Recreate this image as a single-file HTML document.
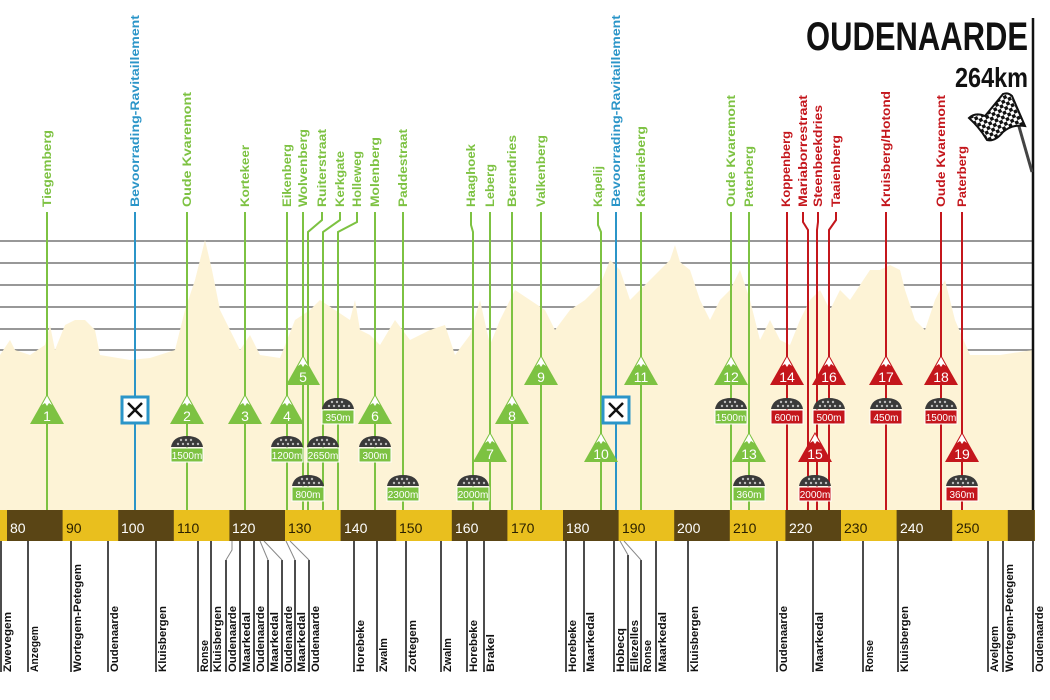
<!DOCTYPE html>
<html><head><meta charset="utf-8"><style>
html,body{margin:0;padding:0;background:#fff;}
svg{display:block;}
text{font-family:"Liberation Sans Narrow","Liberation Sans",sans-serif;}
</style></head><body>
<svg width="1050" height="700" viewBox="0 0 1050 700" xmlns="http://www.w3.org/2000/svg">
<defs>
<pattern id="chk" width="7" height="7" patternUnits="userSpaceOnUse" patternTransform="rotate(-25)">
<rect width="7" height="7" fill="#fff"/><rect width="3.5" height="3.5" fill="#111"/><rect x="3.5" y="3.5" width="3.5" height="3.5" fill="#111"/>
</pattern>
<g id="tg"><polygon points="0,0 17,30 -17,30" fill="#7dc242"/><polygon points="0,2 5,11 2,9 0,12 -2,9 -5,11" fill="#fff"/></g>
<g id="tr"><polygon points="0,0 17,30 -17,30" fill="#c4161c"/><polygon points="0,2 5,11 2,9 0,12 -2,9 -5,11" fill="#fff"/></g>
<g id="dome"><path d="M-16,11 Q-14,0 0,0 Q14,0 16,11 Z" fill="#3a3a3a"/><g fill="#bbb"><circle cx="-9" cy="8" r="1.2"/><circle cx="-4" cy="8" r="1.2"/><circle cx="1" cy="8" r="1.2"/><circle cx="6" cy="8" r="1.2"/><circle cx="11" cy="8" r="1.2"/><circle cx="-6" cy="4" r="1.2"/><circle cx="-1" cy="4" r="1.2"/><circle cx="4" cy="4" r="1.2"/></g></g>
<g id="sq"><rect x="-13" y="0" width="26" height="26" fill="#fff" stroke="#2b95c8" stroke-width="3"/><path d="M-7,6 L7,20 M7,6 L-7,20" stroke="#111" stroke-width="2.5"/></g>
</defs>

<g stroke="#777" stroke-width="1.5">
<line x1="0" y1="241" x2="1033" y2="241"/><line x1="0" y1="263" x2="1033" y2="263"/>
<line x1="0" y1="285" x2="1033" y2="285"/><line x1="0" y1="307" x2="1033" y2="307"/>
<line x1="0" y1="329" x2="1033" y2="329"/><line x1="0" y1="350" x2="1033" y2="350"/>
</g>
<polygon fill="#fdf3d6" points="0,355 10,340 15,350 30,355 45,345 50,325 55,350 65,325 75,320 85,320 95,330 100,355 130,360 150,358 175,350 185,310 195,280 205,240 212,270 220,310 230,330 240,350 250,335 260,355 280,358 295,320 310,310 320,300 335,310 350,320 355,300 360,330 370,335 380,345 395,320 410,340 430,330 445,325 455,355 470,335 480,300 490,345 500,320 515,290 530,300 545,310 555,330 570,310 585,300 600,285 610,260 620,270 630,300 640,290 650,280 660,270 670,260 675,245 680,262 690,270 700,300 710,320 720,300 730,290 740,270 750,300 760,340 770,320 780,340 790,345 800,320 810,300 820,290 830,310 840,290 850,300 860,285 870,270 880,270 890,265 900,270 905,290 915,320 925,330 935,300 945,280 955,320 970,355 1000,355 1033,350 1033,512 0,512"/>

<text x="1028" y="50" font-size="40" font-weight="bold" text-anchor="end" fill="#111" textLength="222" lengthAdjust="spacingAndGlyphs">OUDENAARDE</text>
<text x="1028" y="87" font-size="28" font-weight="bold" text-anchor="end" fill="#111" textLength="73" lengthAdjust="spacingAndGlyphs">264km</text>
<line x1="1033" y1="18" x2="1033" y2="512" stroke="#111" stroke-width="2.5"/>
<line x1="1010" y1="95" x2="1032" y2="172" stroke="#444" stroke-width="3"/>
<path d="M969,118 Q975,112 985,116 Q995,104 1003,94 Q1008,92 1012,96 L1025,126 Q1012,124 1003,132 Q995,142 987,140 Q980,128 969,118 Z" fill="url(#chk)" stroke="#111" stroke-width="2"/>

<g stroke-width="2" fill="none">
<g stroke="#7dc242">
<line x1="47" y1="212" x2="47" y2="510"/><line x1="187" y1="212" x2="187" y2="510"/><line x1="245" y1="212" x2="245" y2="510"/>
<line x1="287" y1="212" x2="287" y2="510"/><line x1="303" y1="212" x2="303" y2="510"/>
<polyline points="322,212 322,220 308,232 308,510"/><polyline points="340,212 340,220 323,232 323,510"/><polyline points="357,212 357,222 338,232 338,510"/>
<line x1="375" y1="212" x2="375" y2="510"/><line x1="403" y1="212" x2="403" y2="510"/>
<polyline points="471,212 471,225 473,232 473,510"/><line x1="490" y1="212" x2="490" y2="510"/><line x1="512" y1="212" x2="512" y2="510"/>
<line x1="541" y1="212" x2="541" y2="510"/><polyline points="598,212 598,225 601,232 601,510"/><line x1="641" y1="212" x2="641" y2="510"/>
<line x1="731" y1="212" x2="731" y2="510"/><line x1="749" y1="212" x2="749" y2="510"/>
</g>
<g stroke="#2b95c8"><line x1="135" y1="212" x2="135" y2="510"/><line x1="616" y1="212" x2="616" y2="510"/></g>
<g stroke="#c4161c">
<line x1="787" y1="212" x2="787" y2="510"/><polyline points="803,212 803,222 808,230 808,510"/><polyline points="818,212 818,222 817,230 817,510"/>
<polyline points="836,212 836,220 829,230 829,510"/><line x1="886" y1="212" x2="886" y2="510"/><line x1="941" y1="212" x2="941" y2="510"/><line x1="962" y1="212" x2="962" y2="510"/>
</g>
</g>

<g font-size="12" font-weight="bold">
<g fill="#7dc242">
<text transform="translate(51,207) rotate(-90)" textLength="77" lengthAdjust="spacingAndGlyphs">Tiegemberg</text>
<text transform="translate(191,207) rotate(-90)" textLength="115" lengthAdjust="spacingAndGlyphs">Oude Kvaremont</text>
<text transform="translate(249,207) rotate(-90)" textLength="62" lengthAdjust="spacingAndGlyphs">Kortekeer</text>
<text transform="translate(291,207) rotate(-90)" textLength="63" lengthAdjust="spacingAndGlyphs">Eikenberg</text>
<text transform="translate(307,207) rotate(-90)" textLength="78" lengthAdjust="spacingAndGlyphs">Wolvenberg</text>
<text transform="translate(326,207) rotate(-90)" textLength="78" lengthAdjust="spacingAndGlyphs">Ruiterstraat</text>
<text transform="translate(344,207) rotate(-90)" textLength="56" lengthAdjust="spacingAndGlyphs">Kerkgate</text>
<text transform="translate(361,207) rotate(-90)" textLength="56" lengthAdjust="spacingAndGlyphs">Holleweg</text>
<text transform="translate(379,207) rotate(-90)" textLength="70" lengthAdjust="spacingAndGlyphs">Molenberg</text>
<text transform="translate(407,207) rotate(-90)" textLength="78" lengthAdjust="spacingAndGlyphs">Paddestraat</text>
<text transform="translate(475,207) rotate(-90)" textLength="63" lengthAdjust="spacingAndGlyphs">Haaghoek</text>
<text transform="translate(494,207) rotate(-90)" textLength="43" lengthAdjust="spacingAndGlyphs">Leberg</text>
<text transform="translate(516,207) rotate(-90)" textLength="72" lengthAdjust="spacingAndGlyphs">Berendries</text>
<text transform="translate(545,207) rotate(-90)" textLength="72" lengthAdjust="spacingAndGlyphs">Valkenberg</text>
<text transform="translate(602,207) rotate(-90)" textLength="41" lengthAdjust="spacingAndGlyphs">Kapelij</text>
<text transform="translate(645,207) rotate(-90)" textLength="81" lengthAdjust="spacingAndGlyphs">Kanarieberg</text>
<text transform="translate(735,207) rotate(-90)" textLength="112" lengthAdjust="spacingAndGlyphs">Oude Kvaremont</text>
<text transform="translate(753,207) rotate(-90)" textLength="61" lengthAdjust="spacingAndGlyphs">Paterberg</text>
</g>
<g fill="#2b95c8">
<text transform="translate(139,207) rotate(-90)" textLength="192" lengthAdjust="spacingAndGlyphs">Bevoorrading-Ravitaillement</text>
<text transform="translate(620,207) rotate(-90)" textLength="192" lengthAdjust="spacingAndGlyphs">Bevoorrading-Ravitaillement</text>
</g>
<g fill="#c4161c">
<text transform="translate(790,207) rotate(-90)" textLength="76" lengthAdjust="spacingAndGlyphs">Koppenberg</text>
<text transform="translate(807,207) rotate(-90)" textLength="112" lengthAdjust="spacingAndGlyphs">Mariaborrestraat</text>
<text transform="translate(822,207) rotate(-90)" textLength="102" lengthAdjust="spacingAndGlyphs">Steenbeekdries</text>
<text transform="translate(840,207) rotate(-90)" textLength="72" lengthAdjust="spacingAndGlyphs">Taaienberg</text>
<text transform="translate(890,207) rotate(-90)" textLength="116" lengthAdjust="spacingAndGlyphs">Kruisberg/Hotond</text>
<text transform="translate(945,207) rotate(-90)" textLength="112" lengthAdjust="spacingAndGlyphs">Oude Kvaremont</text>
<text transform="translate(966,207) rotate(-90)" textLength="61" lengthAdjust="spacingAndGlyphs">Paterberg</text>
</g>
</g>

<use href="#sq" x="135" y="397"/><use href="#sq" x="616" y="397"/>

<g font-size="14" fill="#fff" text-anchor="middle">
<use href="#tg" x="303" y="355"/><text x="303" y="382">5</text>
<use href="#tg" x="541" y="355"/><text x="541" y="382">9</text>
<use href="#tg" x="641" y="355"/><text x="641" y="382">11</text>
<use href="#tg" x="731" y="355"/><text x="731" y="382">12</text>
<use href="#tr" x="787" y="355"/><text x="787" y="382">14</text>
<use href="#tr" x="829" y="355"/><text x="829" y="382">16</text>
<use href="#tr" x="886" y="355"/><text x="886" y="382">17</text>
<use href="#tr" x="941" y="355"/><text x="941" y="382">18</text>
<use href="#tg" x="47" y="394"/><text x="47" y="421">1</text>
<use href="#tg" x="187" y="394"/><text x="187" y="421">2</text>
<use href="#tg" x="245" y="394"/><text x="245" y="421">3</text>
<use href="#tg" x="287" y="394"/><text x="287" y="421">4</text>
<use href="#tg" x="375" y="394"/><text x="375" y="421">6</text>
<use href="#tg" x="512" y="394"/><text x="512" y="421">8</text>
<use href="#tg" x="490" y="432"/><text x="490" y="459">7</text>
<use href="#tg" x="601" y="432"/><text x="601" y="459">10</text>
<use href="#tg" x="749" y="432"/><text x="749" y="459">13</text>
<use href="#tr" x="815" y="432"/><text x="815" y="459">15</text>
<use href="#tr" x="962" y="432"/><text x="962" y="459">19</text>
</g>

<g font-size="10" fill="#fff" text-anchor="middle">
<use href="#dome" x="338" y="398"/><rect x="322" y="410" width="32" height="14" fill="#7dc242" stroke="#fff"/><text x="338" y="421">350m</text>
<use href="#dome" x="731" y="398"/><rect x="715" y="410" width="32" height="14" fill="#7dc242" stroke="#fff"/><text x="731" y="421">1500m</text>
<use href="#dome" x="787" y="398"/><rect x="771" y="410" width="32" height="14" fill="#c4161c" stroke="#fff"/><text x="787" y="421">600m</text>
<use href="#dome" x="829" y="398"/><rect x="813" y="410" width="32" height="14" fill="#c4161c" stroke="#fff"/><text x="829" y="421">500m</text>
<use href="#dome" x="886" y="398"/><rect x="870" y="410" width="32" height="14" fill="#c4161c" stroke="#fff"/><text x="886" y="421">450m</text>
<use href="#dome" x="941" y="398"/><rect x="925" y="410" width="32" height="14" fill="#c4161c" stroke="#fff"/><text x="941" y="421">1500m</text>
<use href="#dome" x="187" y="436"/><rect x="171" y="448" width="32" height="14" fill="#7dc242" stroke="#fff"/><text x="187" y="459">1500m</text>
<use href="#dome" x="287" y="436"/><rect x="271" y="448" width="32" height="14" fill="#7dc242" stroke="#fff"/><text x="287" y="459">1200m</text>
<use href="#dome" x="323" y="436"/><rect x="307" y="448" width="32" height="14" fill="#7dc242" stroke="#fff"/><text x="323" y="459">2650m</text>
<use href="#dome" x="375" y="436"/><rect x="359" y="448" width="32" height="14" fill="#7dc242" stroke="#fff"/><text x="375" y="459">300m</text>
<use href="#dome" x="308" y="475"/><rect x="292" y="487" width="32" height="14" fill="#7dc242" stroke="#fff"/><text x="308" y="498">800m</text>
<use href="#dome" x="403" y="475"/><rect x="387" y="487" width="32" height="14" fill="#7dc242" stroke="#fff"/><text x="403" y="498">2300m</text>
<use href="#dome" x="473" y="475"/><rect x="457" y="487" width="32" height="14" fill="#7dc242" stroke="#fff"/><text x="473" y="498">2000m</text>
<use href="#dome" x="749" y="475"/><rect x="733" y="487" width="32" height="14" fill="#7dc242" stroke="#fff"/><text x="749" y="498">360m</text>
<use href="#dome" x="815" y="475"/><rect x="799" y="487" width="32" height="14" fill="#c4161c" stroke="#fff"/><text x="815" y="498">2000m</text>
<use href="#dome" x="962" y="475"/><rect x="946" y="487" width="32" height="14" fill="#c4161c" stroke="#fff"/><text x="962" y="498">360m</text>
</g>

<rect x="0" y="510" width="1035" height="31" fill="#e9bf1e"/>
<g fill="#5a4515">
<rect x="7" y="510" width="55.6" height="31"/><rect x="118.2" y="510" width="55.6" height="31"/>
<rect x="229.4" y="510" width="55.6" height="31"/><rect x="340.6" y="510" width="55.6" height="31"/>
<rect x="451.8" y="510" width="55.6" height="31"/><rect x="563" y="510" width="55.6" height="31"/>
<rect x="674.2" y="510" width="55.6" height="31"/><rect x="785.4" y="510" width="55.6" height="31"/>
<rect x="896.6" y="510" width="55.6" height="31"/><rect x="1007.8" y="510" width="27" height="31"/>
</g>
<g font-size="14">
<text x="10" y="533" fill="#fff">80</text><text x="66" y="533" fill="#2a2000">90</text>
<text x="121" y="533" fill="#fff">100</text><text x="177" y="533" fill="#2a2000">110</text>
<text x="232" y="533" fill="#fff">120</text><text x="288" y="533" fill="#2a2000">130</text>
<text x="344" y="533" fill="#fff">140</text><text x="399" y="533" fill="#2a2000">150</text>
<text x="455" y="533" fill="#fff">160</text><text x="511" y="533" fill="#2a2000">170</text>
<text x="566" y="533" fill="#fff">180</text><text x="622" y="533" fill="#2a2000">190</text>
<text x="677" y="533" fill="#fff">200</text><text x="733" y="533" fill="#2a2000">210</text>
<text x="789" y="533" fill="#fff">220</text><text x="844" y="533" fill="#2a2000">230</text>
<text x="900" y="533" fill="#fff">240</text><text x="956" y="533" fill="#2a2000">250</text>
</g>

<g stroke="#111" stroke-width="1.5">
<line x1="1" y1="541" x2="1" y2="672"/><line x1="28" y1="541" x2="28" y2="672"/><line x1="71" y1="541" x2="71" y2="672"/>
<line x1="108" y1="541" x2="108" y2="672"/><line x1="156" y1="541" x2="156" y2="672"/><line x1="198" y1="541" x2="198" y2="672"/>
<line x1="211" y1="541" x2="211" y2="672"/><line x1="226" y1="560" x2="226" y2="672"/><line x1="240" y1="541" x2="240" y2="672"/>
<line x1="254" y1="541" x2="254" y2="672"/><line x1="268" y1="560" x2="268" y2="672"/><line x1="282" y1="560" x2="282" y2="672"/>
<line x1="295" y1="560" x2="295" y2="672"/><line x1="309" y1="560" x2="309" y2="672"/>
<line x1="354" y1="541" x2="354" y2="672"/><line x1="377" y1="541" x2="377" y2="672"/><line x1="406" y1="541" x2="406" y2="672"/>
<line x1="441" y1="541" x2="441" y2="672"/><line x1="467" y1="541" x2="467" y2="672"/><line x1="484" y1="541" x2="484" y2="672"/>
<line x1="566" y1="541" x2="566" y2="672"/><line x1="584" y1="541" x2="584" y2="672"/><line x1="614" y1="541" x2="614" y2="672"/>
<line x1="628" y1="555" x2="628" y2="672"/><line x1="641" y1="560" x2="641" y2="672"/><line x1="656" y1="541" x2="656" y2="672"/>
<line x1="688" y1="541" x2="688" y2="672"/><line x1="777" y1="541" x2="777" y2="672"/><line x1="813" y1="541" x2="813" y2="672"/>
<line x1="863" y1="541" x2="863" y2="672"/><line x1="898" y1="541" x2="898" y2="672"/><line x1="988" y1="541" x2="988" y2="672"/>
<line x1="1003" y1="541" x2="1003" y2="672"/><line x1="1033" y1="541" x2="1033" y2="672"/>
</g>
<g stroke="#888" stroke-width="1" fill="none">
<polyline points="232,541 232,550 226,560"/><polyline points="260,541 268,560"/><polyline points="264,541 282,560"/><polyline points="286,541 295,560"/><polyline points="290,541 309,560"/>
<polyline points="620,541 628,555"/><polyline points="624,541 641,560"/>
</g>
<g font-size="11" font-weight="bold" fill="#111">
<text transform="translate(11,672) rotate(-90)" textLength="60" lengthAdjust="spacingAndGlyphs">Zwevegem</text>
<text transform="translate(38,672) rotate(-90)" textLength="46" lengthAdjust="spacingAndGlyphs">Anzegem</text>
<text transform="translate(81,672) rotate(-90)" textLength="108" lengthAdjust="spacingAndGlyphs">Wortegem-Petegem</text>
<text transform="translate(118,672) rotate(-90)" textLength="66" lengthAdjust="spacingAndGlyphs">Oudenaarde</text>
<text transform="translate(166,672) rotate(-90)" textLength="66" lengthAdjust="spacingAndGlyphs">Kluisbergen</text>
<text transform="translate(208,672) rotate(-90)" textLength="32" lengthAdjust="spacingAndGlyphs">Ronse</text>
<text transform="translate(221,672) rotate(-90)" textLength="66" lengthAdjust="spacingAndGlyphs">Kluisbergen</text>
<text transform="translate(236,672) rotate(-90)" textLength="66" lengthAdjust="spacingAndGlyphs">Oudenaarde</text>
<text transform="translate(250,672) rotate(-90)" textLength="60" lengthAdjust="spacingAndGlyphs">Maarkedal</text>
<text transform="translate(264,672) rotate(-90)" textLength="66" lengthAdjust="spacingAndGlyphs">Oudenaarde</text>
<text transform="translate(278,672) rotate(-90)" textLength="60" lengthAdjust="spacingAndGlyphs">Maarkedal</text>
<text transform="translate(292,672) rotate(-90)" textLength="66" lengthAdjust="spacingAndGlyphs">Oudenaarde</text>
<text transform="translate(305,672) rotate(-90)" textLength="60" lengthAdjust="spacingAndGlyphs">Maarkedal</text>
<text transform="translate(319,672) rotate(-90)" textLength="66" lengthAdjust="spacingAndGlyphs">Oudenaarde</text>
<text transform="translate(364,672) rotate(-90)" textLength="52" lengthAdjust="spacingAndGlyphs">Horebeke</text>
<text transform="translate(387,672) rotate(-90)" textLength="34" lengthAdjust="spacingAndGlyphs">Zwalm</text>
<text transform="translate(416,672) rotate(-90)" textLength="52" lengthAdjust="spacingAndGlyphs">Zottegem</text>
<text transform="translate(451,672) rotate(-90)" textLength="34" lengthAdjust="spacingAndGlyphs">Zwalm</text>
<text transform="translate(477,672) rotate(-90)" textLength="52" lengthAdjust="spacingAndGlyphs">Horebeke</text>
<text transform="translate(494,672) rotate(-90)" textLength="38" lengthAdjust="spacingAndGlyphs">Brakel</text>
<text transform="translate(576,672) rotate(-90)" textLength="52" lengthAdjust="spacingAndGlyphs">Horebeke</text>
<text transform="translate(594,672) rotate(-90)" textLength="60" lengthAdjust="spacingAndGlyphs">Maarkedal</text>
<text transform="translate(624,672) rotate(-90)" textLength="44" lengthAdjust="spacingAndGlyphs">Hobecq</text>
<text transform="translate(638,672) rotate(-90)" textLength="52" lengthAdjust="spacingAndGlyphs">Ellezelles</text>
<text transform="translate(651,672) rotate(-90)" textLength="32" lengthAdjust="spacingAndGlyphs">Ronse</text>
<text transform="translate(666,672) rotate(-90)" textLength="60" lengthAdjust="spacingAndGlyphs">Maarkedal</text>
<text transform="translate(698,672) rotate(-90)" textLength="66" lengthAdjust="spacingAndGlyphs">Kluisbergen</text>
<text transform="translate(787,672) rotate(-90)" textLength="66" lengthAdjust="spacingAndGlyphs">Oudenaarde</text>
<text transform="translate(823,672) rotate(-90)" textLength="60" lengthAdjust="spacingAndGlyphs">Maarkedal</text>
<text transform="translate(873,672) rotate(-90)" textLength="32" lengthAdjust="spacingAndGlyphs">Ronse</text>
<text transform="translate(908,672) rotate(-90)" textLength="66" lengthAdjust="spacingAndGlyphs">Kluisbergen</text>
<text transform="translate(998,672) rotate(-90)" textLength="46" lengthAdjust="spacingAndGlyphs">Avelgem</text>
<text transform="translate(1013,672) rotate(-90)" textLength="108" lengthAdjust="spacingAndGlyphs">Wortegem-Petegem</text>
<text transform="translate(1043,672) rotate(-90)" textLength="66" lengthAdjust="spacingAndGlyphs">Oudenaarde</text>
</g>
</svg>
</body></html>
